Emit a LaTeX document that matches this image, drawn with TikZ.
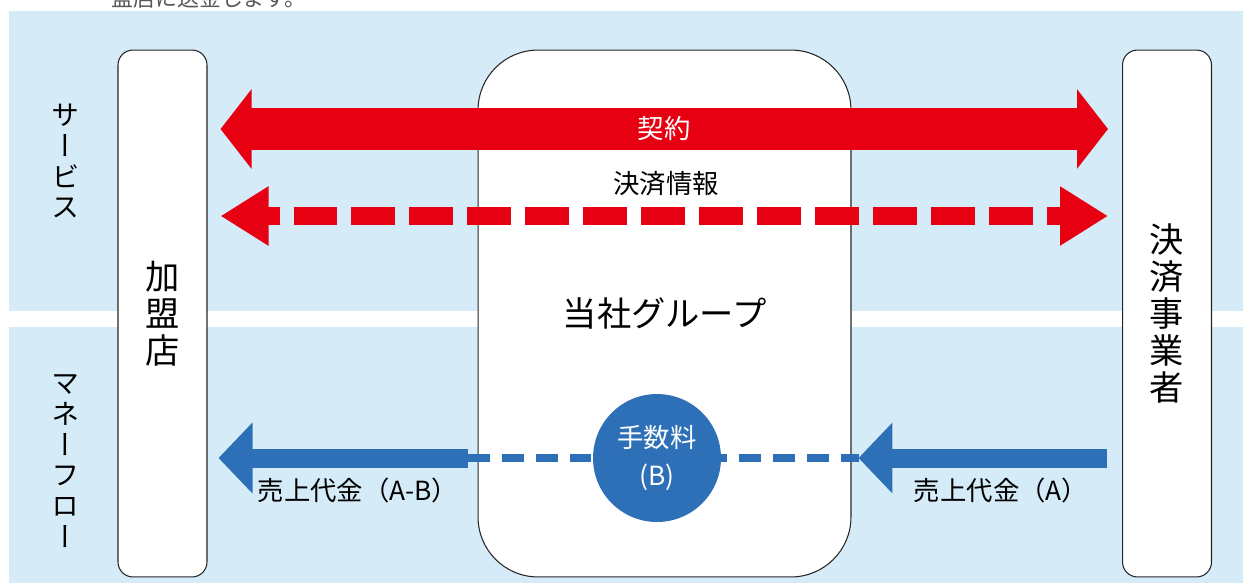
\documentclass[tikz,border=0pt]{standalone}
\usepackage{fontspec}
\setmainfont{Noto Sans CJK JP}
\newfontfamily\tatefont{Noto Sans CJK JP}[RawFeature=+vert]
\usetikzlibrary{arrows.meta}
\usetikzlibrary{positioning}
\definecolor{bandblue}{RGB}{213,235,248}
\definecolor{keyred}{RGB}{230,0,18}
\definecolor{flowblue}{RGB}{46,112,184}
\definecolor{notegray}{RGB}{89,89,89}
\tikzstyle{band} = [fill=bandblue, draw=none]
\tikzstyle{party} = [rectangle, rounded corners=0.3cm, minimum width=1.78cm, minimum
height=10.54cm, align=center, draw=black!85, fill=white, line width=0.6pt,
font=\tatefont\fontsize{19.5}{21}\selectfont]
\tikzstyle{hub} = [rectangle, rounded corners=1.2cm, minimum width=7.46cm, minimum
height=10.54cm, draw=black!85, fill=white, line width=0.6pt,
font=\fontsize{19.5}{21}\selectfont]
\tikzstyle{side} = [align=center, font=\tatefont\fontsize{16}{17.6}\selectfont]
\tikzstyle{tag} = [font=\fontsize{15}{16}\selectfont]
\tikzstyle{contract} = [draw=keyred, line width=0.84cm,
{Triangle[length=0.62cm, width=1.56cm]}-{Triangle[length=0.62cm, width=1.56cm]},
shorten <=0.26cm, shorten >=0.28cm]
\tikzstyle{info} = [draw=keyred, line width=0.36cm, dash pattern=on 0.88cm off 0.28cm,
dash phase=0.6cm, {Triangle[length=0.96cm, width=1.12cm]}-{Triangle[length=0.96cm, width=1.12cm]},
shorten <=0.26cm, shorten >=0.28cm]
\tikzstyle{money} = [draw=flowblue, line width=0.38cm, -{Triangle[length=0.68cm, width=1.38cm]}]
\tikzstyle{feeline} = [draw=flowblue, line width=0.16cm, dash pattern=on 0.44cm off 0.24cm]
\tikzstyle{fee} = [circle, fill=flowblue, minimum size=2.56cm, inner sep=0pt, text=white,
align=center, font=\fontsize{15}{21.6}\selectfont]

\begin{document}
\begin{tikzpicture}[x=0.02cm, y=-0.02cm]
    \useasboundingbox (0,0) rectangle (1243,583);
    \fill[band] (9,11) rectangle (1243,311);
    \fill[band] (9,327) rectangle (1243,583);
    \node (note) [anchor=base west, text=notegray, font=\fontsize{12.5}{14}\selectfont] at (105,6) {盟店に送金します。};

    \node (service) [side] at (66,161) {サ\\ー\\ビ\\ス};
    \node (moneyflow) [side] at (66,461) {マ\\ネ\\ー\\フ\\ロ\\ー};

    \node (store) [party] at (162.5,313.5) {加\\盟\\店};
    \node (hub) [hub] at (664.5,313.5) {当社グループ};
    \node (provider) [party] at (1167,313.5) {決\\済\\事\\業\\者};

    \coordinate (row1) at (0,129);
    \coordinate (row2) at (0,216);
    \coordinate (row3) at (0,458);

    \draw[contract] (store.east |- row1) -- (provider.west |- row1);
    \draw[info] (store.east |- row2) -- (provider.west |- row2);
    \draw[feeline, shorten <=-0.2cm, shorten >=-0.14cm] (hub.west |- row3) -- (hub.east |- row3);
    \draw[money, shorten <=0.2cm, shorten >=0.22cm] (hub.west |- row3) -- (store.east |- row3);
    \draw[money, shorten <=0.3cm, shorten >=0.14cm] (provider.west |- row3) -- (hub.east |- row3);

    \node (fee) [fee] at (657,458) {手数料\\(B)};

    \node (pact) [tag, text=white] at (664,128) {契約};
    \node (infotag) [tag] at (666,184) {決済情報};
    \node (paidout) [tag] at (358,490) {売上代金（A-B）};
    \node (paidin) [tag] at (1001,490) {売上代金（A）};
\end{tikzpicture}
\end{document}
